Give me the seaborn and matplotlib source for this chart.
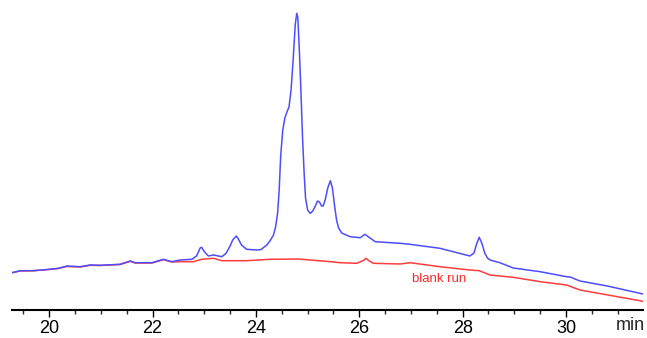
import numpy as np
import pandas as pd
import matplotlib
matplotlib.use('Agg')
import matplotlib.pyplot as plt
import seaborn as sns

# retention time (min) and detector signal (arbitrary units), sample run
sample_t = [19.28, 19.44, 19.70, 20.00, 20.18, 20.34, 20.60, 20.79, 20.99, 21.37,
            21.57, 21.66, 21.99, 22.21, 22.37, 22.53, 22.76, 22.85, 22.89, 22.92,
            22.95, 22.98, 23.02, 23.08, 23.18, 23.34, 23.42, 23.50, 23.55, 23.62,
            23.66, 23.72, 23.82, 24.02, 24.10, 24.21, 24.27, 24.34, 24.38, 24.42,
            24.45, 24.48, 24.52, 24.56, 24.60, 24.64, 24.68, 24.72, 24.76, 24.79,
            24.81, 24.84, 24.87, 24.90, 24.93, 24.96, 25.00, 25.05, 25.10, 25.15,
            25.19, 25.23, 25.27, 25.30, 25.34, 25.39, 25.44, 25.48, 25.52, 25.56,
            25.60, 25.66, 25.82, 26.02, 26.11, 26.18, 26.31, 26.79, 26.98, 27.56,
            28.14, 28.22, 28.27, 28.32, 28.37, 28.43, 28.48, 28.53, 28.72, 28.98,
            29.50, 30.01, 30.08, 30.27, 30.80, 31.43, 31.49]
sample_y = [37.3, 39.3, 39.3, 40.7, 41.7, 44.0, 43.3, 45.0, 44.7, 45.7,
            49.0, 47.3, 47.3, 50.7, 48.3, 50.0, 50.7, 54.0, 58.3, 62.0,
            62.7, 60.0, 57.3, 54.0, 55.0, 53.3, 56.5, 64.0, 70.0, 74.0,
            71.0, 65.0, 60.7, 60.0, 60.5, 65.0, 69.0, 75.0, 83.0, 97.0,
            120.0, 155.0, 180.0, 192.0, 198.0, 203.0, 220.0, 250.0, 285.0, 296.7,
            293.0, 260.0, 220.0, 175.0, 140.0, 112.0, 100.0, 96.7, 99.0, 104.0,
            109.0, 108.0, 104.0, 104.0, 110.0, 122.0, 129.3, 122.0, 105.0, 90.0,
            82.0, 77.0, 73.3, 72.3, 75.7, 73.0, 68.3, 66.7, 65.7, 61.7,
            54.0, 57.0, 66.0, 72.7, 67.0, 56.7, 52.0, 50.0, 47.3, 42.0,
            38.3, 33.3, 33.0, 29.0, 24.0, 16.7, 16.0]

# blank run
blank_t = [19.28, 19.44, 19.70, 20.00, 20.18, 20.34, 20.60, 20.79, 20.99, 21.37,
           21.57, 21.66, 21.99, 22.21, 22.37, 22.53, 22.79, 22.95, 23.18, 23.34,
           23.82, 24.27, 24.81, 25.45, 25.63, 25.95, 26.08, 26.13, 26.18, 26.27,
           26.79, 26.98, 27.56, 28.14, 28.32, 28.53, 28.72, 28.98, 29.50, 30.01,
           30.27, 31.43, 31.49]
blank_y = [37.3, 39.0, 39.3, 40.5, 41.5, 43.5, 43.0, 44.7, 44.5, 45.5,
           48.7, 47.0, 47.0, 50.3, 48.0, 48.3, 48.3, 50.7, 51.7, 49.3,
           49.3, 50.7, 51.0, 48.3, 47.3, 46.7, 49.5, 51.7, 49.5, 46.7,
           46.0, 47.3, 43.3, 40.0, 39.3, 35.0, 34.0, 32.7, 28.3, 25.0,
           20.0, 9.3, 8.5]

major_ticks = [20, 22, 24, 26, 28, 30]

df = pd.concat([
    pd.DataFrame({'t': sample_t, 'signal': sample_y, 'run': 'sample'}),
    pd.DataFrame({'t': blank_t, 'signal': blank_y, 'run': 'blank'}),
])

sns.set_style('white')
plt.rcParams['font.family'] = ['Liberation Sans', 'DejaVu Sans']

fig = plt.figure(figsize=(6.47, 3.38), dpi=100)
ax = fig.add_axes([12 / 647, 28 / 338, 631 / 647, 310 / 338])

sns.lineplot(data=df, x='t', y='signal', hue='run', estimator=None,
             palette={'sample': '#4d4dff', 'blank': '#ff3c3c'},
             hue_order=['blank', 'sample'], linewidth=1.1, legend=False, ax=ax)

ax.set_xlim(19.28, 31.49)
ax.set_ylim(0, 310)
ax.set_xticks(major_ticks)
ax.set_xticks(np.arange(19.5, 31.5, 0.5), minor=True)
ax.tick_params(axis='x', which='major', direction='out', length=5, width=1,
               labelsize=13, pad=2, bottom=True, colors='black')
ax.tick_params(axis='x', which='minor', direction='out', length=3, width=1, bottom=True)
ax.set_yticks([])
ax.set_xlabel('')
ax.set_ylabel('')
for side in ['top', 'right', 'left']:
    ax.spines[side].set_visible(False)
ax.spines['bottom'].set_linewidth(1.5)
ax.spines['bottom'].set_color('black')

ax.text(27.55, 31, 'blank run', color='#ff2a2a', fontsize=9.5, ha='center', va='center')
ax.text(31.24, -7 / 310, 'min', transform=ax.get_xaxis_transform(),
        fontsize=13, ha='center', va='top', clip_on=False)

fig.savefig('out.png', dpi=100)
